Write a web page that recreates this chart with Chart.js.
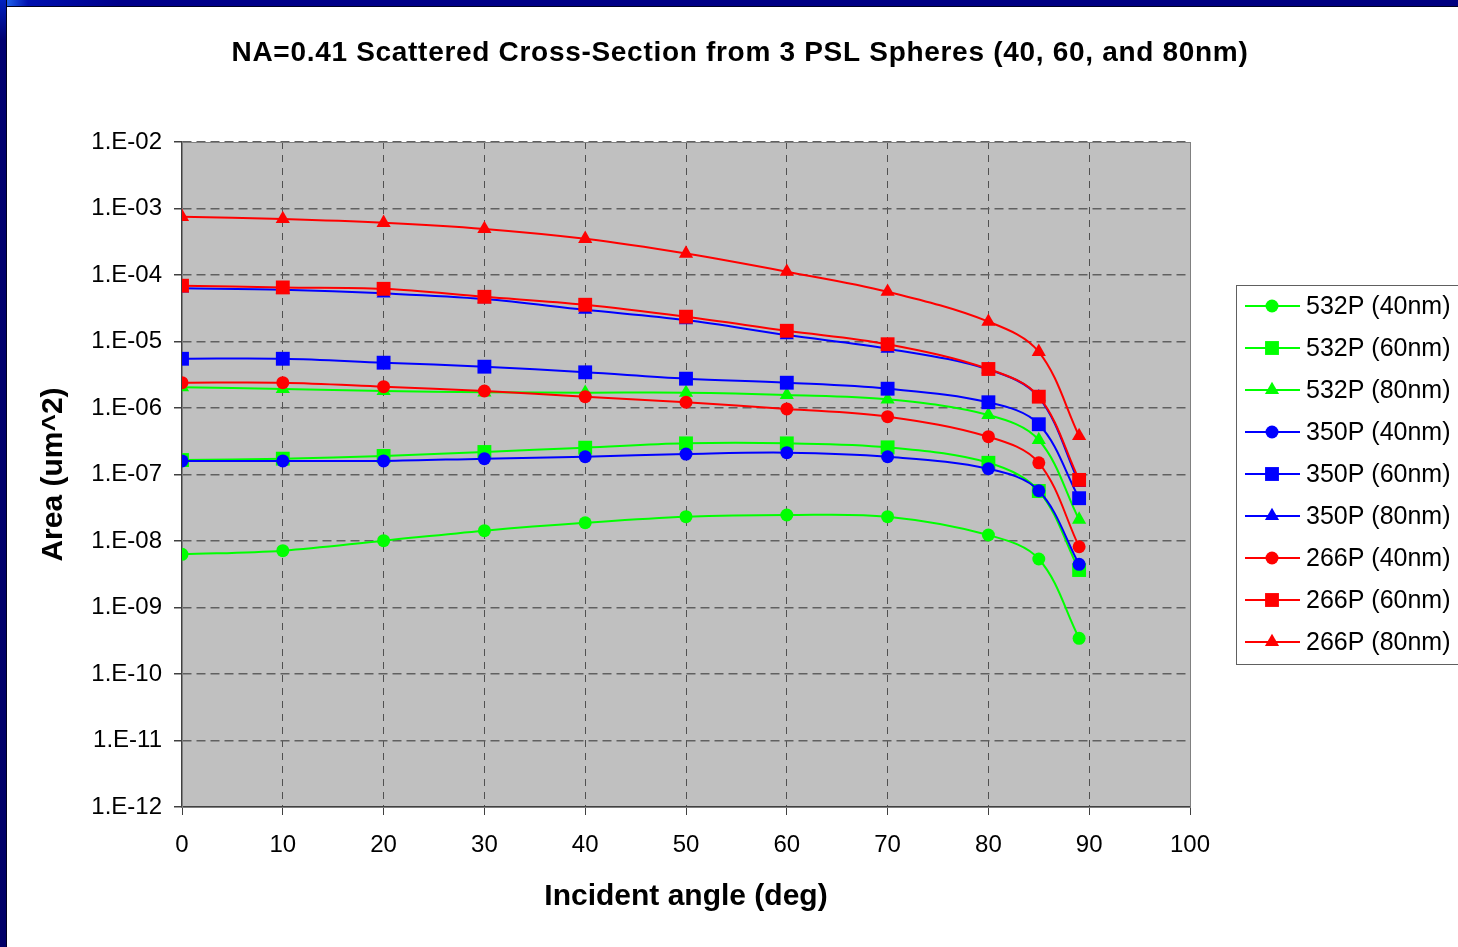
<!DOCTYPE html>
<html>
<head>
<meta charset="utf-8">
<title>NA=0.41 Scattered Cross-Section</title>
<script src="https://cdn.jsdelivr.net/npm/chart.js@4.4.1/dist/chart.umd.min.js"></script>
<style>
  html, body { margin: 0; padding: 0; background: #fff; }
  body { width: 1458px; height: 947px; overflow: hidden; position: relative; }
  #frameTop { position: absolute; left: 0; top: 0; width: 1458px; height: 6px; z-index: 2;
    background: linear-gradient(to right, #2a7bff 0, #0010b0 28px, #00008a 120px, #000080 100%);
    border-bottom: 1px solid #000020; }
  #frameLeft { position: absolute; left: 0; top: 0; width: 6px; height: 947px; z-index: 2;
    background: linear-gradient(to bottom, #0020c0 0, #000070 40px, #000068 100%);
    border-right: 1px solid #000020; }
  #myChart { position: absolute; left: 0; top: 0; }
</style>
</head>
<body>
<canvas id="myChart" width="1458" height="947"></canvas>
<div id="frameTop"></div>
<div id="frameLeft"></div>
<script>
// incident angles (deg)
var angles = [0, 10, 20, 30, 40, 50, 60, 70, 80, 85, 89];

// scattered area (um^2) per wavelength / sphere size
var p532_40 = [6.3e-9, 7.15e-9, 1.01e-8, 1.43e-8, 1.88e-8, 2.32e-8, 2.46e-8, 2.32e-8, 1.23e-8, 5.36e-9, 3.44e-10];
var p532_60 = [1.65e-7, 1.73e-7, 1.9e-7, 2.18e-7, 2.53e-7, 2.94e-7, 2.94e-7, 2.56e-7, 1.5e-7, 5.65e-8, 3.66e-9];
var p532_80 = [2.05e-6, 1.93e-6, 1.8e-6, 1.72e-6, 1.7e-6, 1.7e-6, 1.57e-6, 1.35e-6, 7.85e-7, 3.3e-7, 2.1e-8];
var p350_40 = [1.6e-7, 1.6e-7, 1.6e-7, 1.73e-7, 1.85e-7, 2.03e-7, 2.13e-7, 1.85e-7, 1.22e-7, 5.7e-8, 4.46e-9];
var p350_60 = [5.5e-6, 5.5e-6, 4.8e-6, 4.18e-6, 3.44e-6, 2.76e-6, 2.4e-6, 1.95e-6, 1.22e-6, 5.7e-7, 4.4e-8];
var p350_80 = [6.3e-5, 6.0e-5, 5.3e-5, 4.35e-5, 3.0e-5, 2.1e-5, 1.25e-5, 7.8e-6, 3.8e-6, 1.45e-6, 7.5e-8];
var p266_40 = [2.4e-6, 2.4e-6, 2.09e-6, 1.8e-6, 1.48e-6, 1.22e-6, 9.7e-7, 7.4e-7, 3.7e-7, 1.5e-7, 8.2e-9];
var p266_60 = [6.9e-5, 6.5e-5, 6.2e-5, 4.7e-5, 3.57e-5, 2.36e-5, 1.45e-5, 9.1e-6, 3.86e-6, 1.48e-6, 8.3e-8];
var p266_80 = [7.5e-4, 6.95e-4, 6.1e-4, 4.92e-4, 3.5e-4, 2.1e-4, 1.12e-4, 5.6e-5, 1.99e-5, 7.0e-6, 3.8e-7];

var seriesNames = ['532P (40nm)', '532P (60nm)', '532P (80nm)',
                   '350P (40nm)', '350P (60nm)', '350P (80nm)',
                   '266P (40nm)', '266P (60nm)', '266P (80nm)'];
var seriesValues = [p532_40, p532_60, p532_80, p350_40, p350_60, p350_80, p266_40, p266_60, p266_80];

var yTickValues = [1e-2, 1e-3, 1e-4, 1e-5, 1e-6, 1e-7, 1e-8, 1e-9, 1e-10, 1e-11, 1e-12];
var yTickLabels = ['1.E-02', '1.E-03', '1.E-04', '1.E-05', '1.E-06', '1.E-07',
                   '1.E-08', '1.E-09', '1.E-10', '1.E-11', '1.E-12'];

var chartTitle = 'NA=0.41 Scattered Cross-Section from 3 PSL Spheres (40, 60, and 80nm)';

var FONT = '"Liberation Sans", Arial, sans-serif';
var colors = ['#00ff00', '#0000ff', '#ff0000'];
var shapes = ['circle', 'rect', 'triangle'];
var radii = {circle: 6.5, rect: 9.8, triangle: 8.2};

var datasets = [];
for (var i = 0; i < seriesValues.length; i++) {
	var col = colors[Math.floor(i / 3)];
	var shape = shapes[i % 3];
	var pts = [];
	for (var j = 0; j < angles.length; j++) {
		pts.push({x: angles[j], y: seriesValues[i][j]});
	}
	datasets.push({
		label: seriesNames[i],
		data: pts,
		borderColor: col,
		backgroundColor: col,
		borderWidth: 2,
		pointStyle: shape,
		pointRadius: radii[shape],
		pointBorderWidth: 0,
		pointBackgroundColor: col,
		tension: 0.35,
		order: seriesValues.length - i   // later series drawn on top
	});
}

// grey plot area with frame
var plotArea = {
	id: 'plotArea',
	beforeDraw: function(chart) {
		var a = chart.chartArea, ctx = chart.ctx;
		ctx.save();
		ctx.fillStyle = '#c0c0c0';
		ctx.fillRect(a.left, a.top, a.right - a.left, a.bottom - a.top);
		ctx.restore();
	},
	beforeDatasetsDraw: function(chart) {
		var a = chart.chartArea, ctx = chart.ctx;
		ctx.save();
		ctx.strokeStyle = '#808080';
		ctx.lineWidth = 1;
		ctx.strokeRect(a.left + 0.5, a.top + 0.5, a.right - a.left, a.bottom - a.top);
		ctx.restore();
	}
};

// title and legend box
var decorations = {
	id: 'decorations',
	afterDraw: function(chart) {
		var ctx = chart.ctx;
		ctx.save();
		ctx.fillStyle = '#000';
		ctx.font = 'bold 28px ' + FONT;
		ctx.letterSpacing = '0.7px';
		ctx.textAlign = 'center';
		ctx.textBaseline = 'middle';
		ctx.fillText(chartTitle, 740, 53);
		ctx.letterSpacing = '0px';

		ctx.fillStyle = '#fff';
		ctx.fillRect(1236, 285, 240, 379);
		ctx.strokeStyle = '#606060';
		ctx.lineWidth = 1;
		ctx.strokeRect(1236.5, 285.5, 240, 379);

		ctx.font = '25px ' + FONT;
		ctx.textAlign = 'left';
		var ds = chart.data.datasets;
		for (var k = 0; k < ds.length; k++) {
			var y = 306 + k * 42;
			ctx.strokeStyle = ds[k].borderColor;
			ctx.lineWidth = 2;
			ctx.beginPath();
			ctx.moveTo(1245, y);
			ctx.lineTo(1300, y);
			ctx.stroke();
			ctx.fillStyle = ds[k].backgroundColor;
			Chart.helpers.drawPoint(ctx, {pointStyle: ds[k].pointStyle, radius: ds[k].pointRadius, rotation: 0, borderWidth: 0}, 1272, y);
			ctx.fillStyle = '#000';
			ctx.fillText(ds[k].label, 1306, y + 1);
		}
		ctx.restore();
	}
};

var ctx = document.getElementById('myChart');
var chart = new Chart(ctx, {
	type: 'line',
	data: {datasets: datasets},
	options: {
		responsive: false,
		animation: false,
		layout: {padding: {left: 0, top: 142, right: 268, bottom: 0}},
		plugins: {legend: {display: false}, title: {display: false}, tooltip: {enabled: false}},
		scales: {
			x: {
				type: 'linear',
				min: 0,
				max: 100,
				ticks: {stepSize: 10, color: '#000', padding: 16, font: {family: FONT, size: 24}, maxRotation: 0},
				grid: {color: '#505050', lineWidth: 1, tickLength: 8, tickColor: '#404040', tickBorderDash: []},
				border: {display: true, color: '#404040', width: 1.5, dash: [7, 6]},
				title: {display: true, text: 'Incident angle (deg)', color: '#000',
					font: {family: FONT, size: 30, weight: 'bold'}, padding: {top: 0, bottom: 32}},
				afterFit: function(scale) { scale.height = 140; }
			},
			y: {
				type: 'logarithmic',
				min: 1e-12,
				max: 1e-2,
				afterBuildTicks: function(scale) {
					scale.ticks = yTickValues.map(function(v) { return {value: v, major: true}; });
				},
				ticks: {
					color: '#000', padding: 12, font: {family: FONT, size: 24},
					callback: function(v) {
						var idx = yTickValues.findIndex(function(t) { return Math.abs(Math.log10(t) - Math.log10(v)) < 1e-6; });
						return idx >= 0 ? yTickLabels[idx] : '';
					}
				},
				grid: {color: '#606060', lineWidth: 1.5, tickLength: 8, tickColor: '#404040', tickBorderDash: []},
				border: {display: true, color: '#404040', width: 1.5, dash: [9, 5]},
				title: {display: true, text: 'Area (um^2)', color: '#000',
					font: {family: FONT, size: 30, weight: 'bold'}, padding: {top: 36, bottom: 0}},
				afterFit: function(scale) { scale.width = 182; }
			}
		}
	},
	plugins: [plotArea, decorations]
});
</script>
</body>
</html>
